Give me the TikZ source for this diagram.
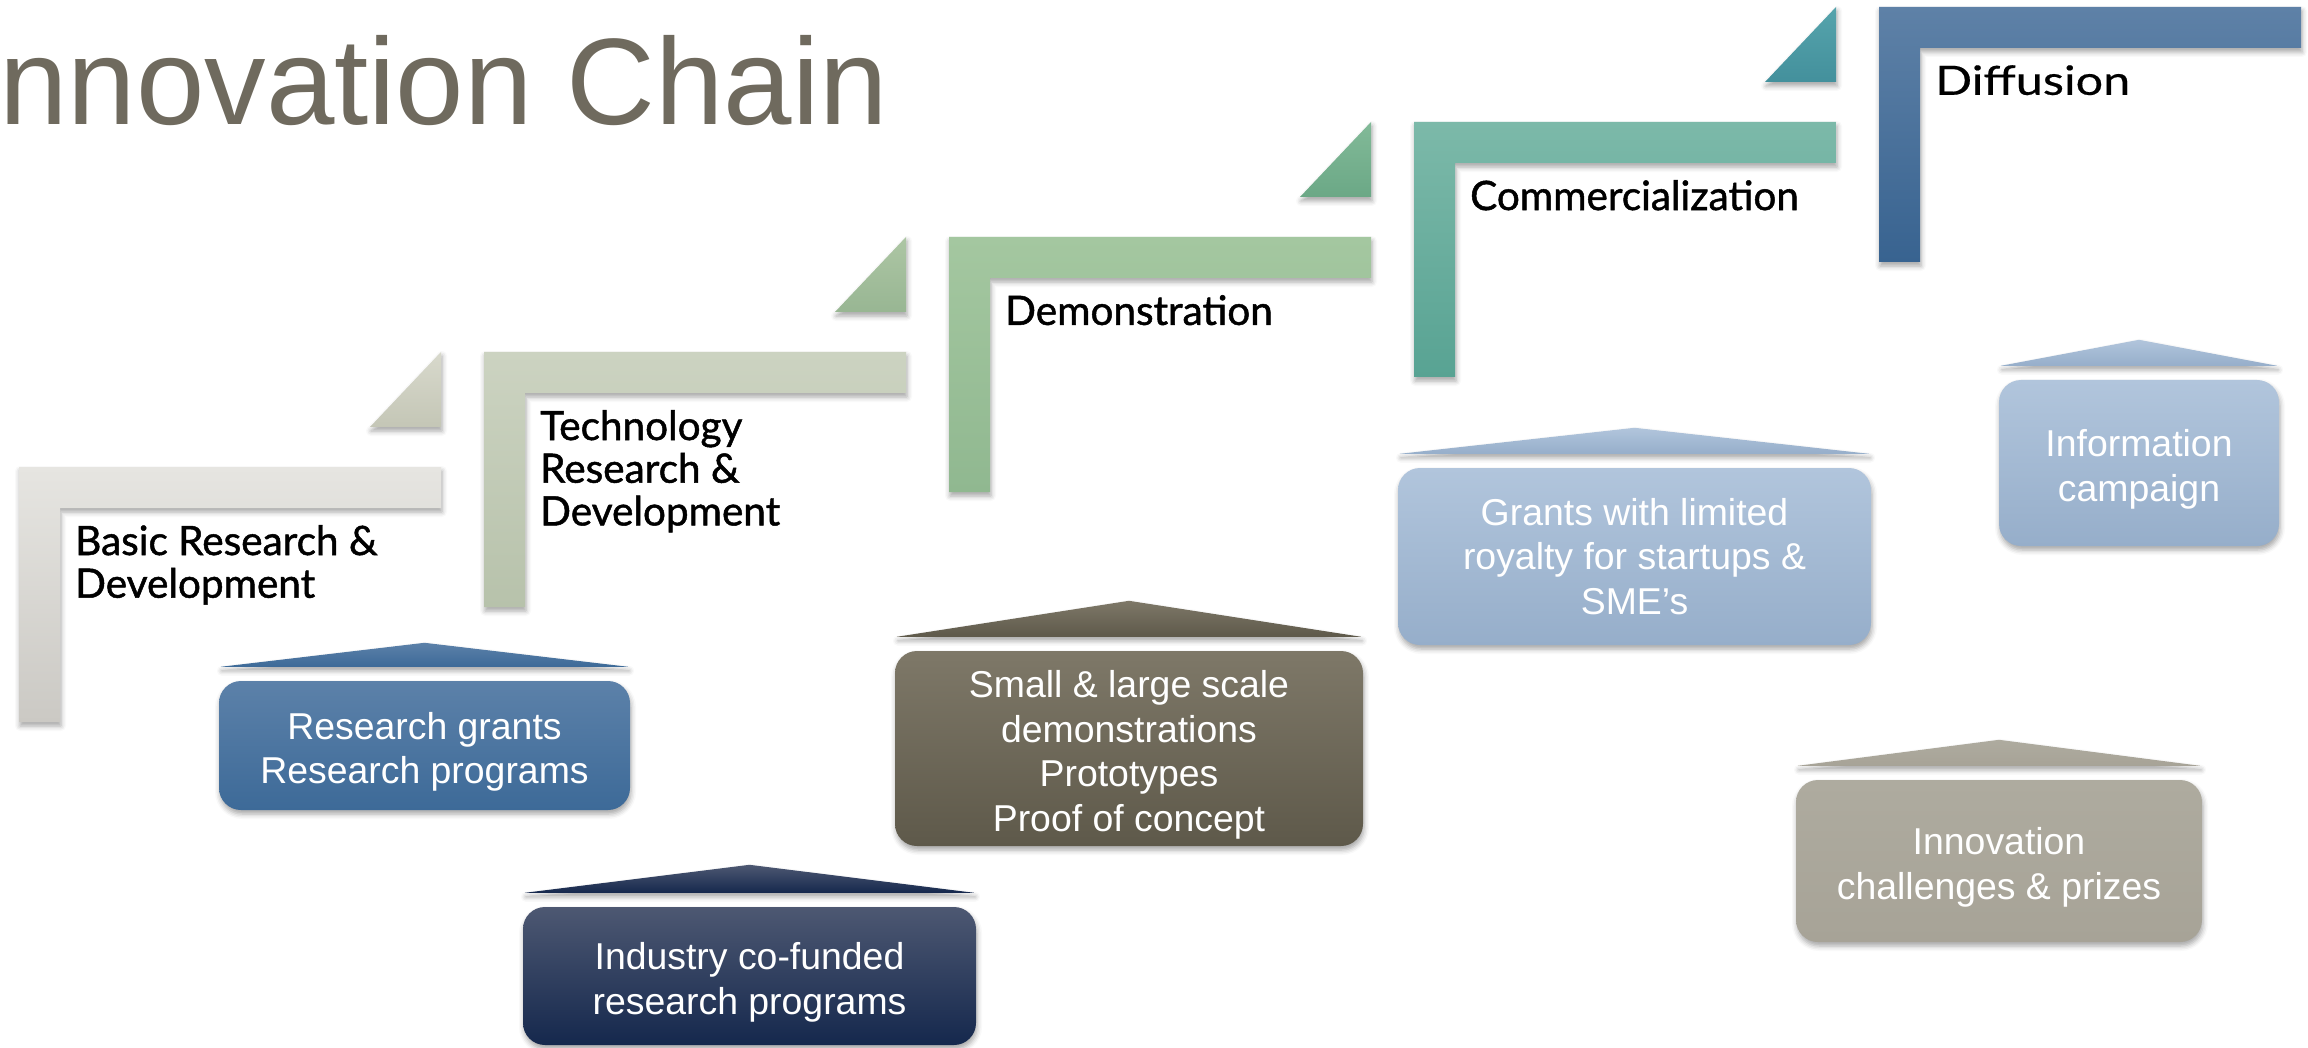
\documentclass[tikz,border=0pt]{standalone}
\usepackage{fontspec}
\setmainfont{Liberation Sans}
\newfontfamily\stepfont[FakeBold=1.2]{Lato}
\newfontfamily\widestepfont[FakeStretch=1.2,FakeBold=0.4]{Lato}
\usetikzlibrary{positioning,calc,shadows.blur}
\newcommand\liftline{\rule{0pt}{40pt}}

\definecolor{titlegray}{HTML}{6F6A5E}
% step bars (top/bottom shades)
\definecolor{basicTop}{HTML}{E6E5E1}\definecolor{basicBot}{HTML}{CBC9C4}
\definecolor{techTop}{HTML}{CCD3C1}\definecolor{techBot}{HTML}{B7C2AB}
\definecolor{demoTop}{HTML}{A4C7A0}\definecolor{demoBot}{HTML}{90B890}
\definecolor{commTop}{HTML}{7CB9A9}\definecolor{commBot}{HTML}{58A393}
\definecolor{diffTop}{HTML}{5E81A7}\definecolor{diffBot}{HTML}{386390}
% small corner wedges
\definecolor{wedgeATop}{HTML}{D8D9CC}\definecolor{wedgeABot}{HTML}{C4C6B6}
\definecolor{wedgeBTop}{HTML}{ADC6A4}\definecolor{wedgeBBot}{HTML}{98B693}
\definecolor{wedgeCTop}{HTML}{82BA98}\definecolor{wedgeCBot}{HTML}{6BA886}
\definecolor{wedgeDTop}{HTML}{56A4AC}\definecolor{wedgeDBot}{HTML}{43909C}
% funding boxes
\definecolor{grantTop}{HTML}{5C81A9}\definecolor{grantBot}{HTML}{3D6A98}
\definecolor{indTop}{HTML}{4D5872}\definecolor{indBot}{HTML}{15284D}
\definecolor{demTop}{HTML}{7E7868}\definecolor{demBot}{HTML}{5E594A}
\definecolor{paleTop}{HTML}{B1C5DC}\definecolor{paleBot}{HTML}{96AECA}
\definecolor{prizeTop}{HTML}{AEAB9F}\definecolor{prizeBot}{HTML}{A7A397}

\begin{document}
\begin{tikzpicture}[x=1pt,y=-1pt,
		soft/.style={blur shadow={shadow xshift=1pt,shadow yshift=-4pt,
			shadow blur radius=5pt,shadow opacity=35}},
		steplabel/.style={anchor=north west,inner sep=0pt,align=left,
			font=\stepfont\fontsize{40.5}{42.7}\selectfont},
		fundbox/.style={soft,rounded corners=22pt,align=center,text=white,
			inner sep=0pt,font=\fontsize{37.4}{44.5}\selectfont}]
		\useasboundingbox (0,0) rectangle (2308,1048);

		% Title (cut by the left edge)
		\node[anchor=base west,inner sep=0pt,text=titlegray,
			font=\fontsize{123}{130}\selectfont] (title) at (-35,125) {Innovation Chain};

		% Steps of the chain
		\foreach \k/\ctop/\cbot in {0/basicTop/basicBot,1/techTop/techBot,
				2/demoTop/demoBot,3/commTop/commBot,4/diffTop/diffBot} {
			\pgfmathsetmacro\sx{19+465*\k}
			\pgfmathsetmacro\sy{467-115*\k}
			\shade[top color=\ctop,bottom color=\cbot,soft]
				(\sx,\sy) -- ++(422,0) -- ++(0,41) -- ++(-381,0)
				-- ++(0,214) -- ++(-41,0) -- cycle;
		}

		% Wedges at the ends of the bars
		\foreach \k/\ctop/\cbot in {0/wedgeATop/wedgeABot,1/wedgeBTop/wedgeBBot,
				2/wedgeCTop/wedgeCBot,3/wedgeDTop/wedgeDBot} {
			\pgfmathsetmacro\sx{19+465*\k+422}
			\pgfmathsetmacro\sy{467-115*\k}
			\shade[top color=\ctop,bottom color=\cbot,soft]
				(\sx,\sy-115) -- (\sx,\sy-40) -- (\sx-71,\sy-40) -- cycle;
		}

		% Step labels
		\node[steplabel] (basic) at (75,525) {Basic Research \&\\Development};
		\node[steplabel] (tech)  at (540,410) {Technology\\Research \&\\Development};
		\node[steplabel] (demo)  at (1005,295) {Demonstration};
		\node[steplabel] (comm)  at (1470,180) {Commercialization};
		\node[steplabel,font=\widestepfont\fontsize{40.5}{42.7}\selectfont]
			(diff) at (1935,65) {Diffusion};

		% Funding instruments
		\node[fundbox,top color=grantTop,bottom color=grantBot,
			minimum width=411pt,minimum height=129pt] (grants) at (424.5,745.5)
			{\liftline Research grants\\Research programs};
		\node[fundbox,top color=indTop,bottom color=indBot,
			minimum width=453pt,minimum height=138pt] (industry) at (749.5,976)
			{\liftline Industry co-funded\\research programs};
		\node[fundbox,top color=demTop,bottom color=demBot,
			minimum width=468pt,minimum height=195pt] (demos) at (1129,748.5)
			{\liftline Small \& large scale\\demonstrations\\Prototypes\\Proof of concept};
		\node[fundbox,top color=paleTop,bottom color=paleBot,
			minimum width=473pt,minimum height=177pt] (royalty) at (1634.5,556.5)
			{Grants with limited\\royalty for startups \&\\SME’s};
		\node[fundbox,top color=paleTop,bottom color=paleBot,
			minimum width=280pt,minimum height=166pt] (campaign) at (2139,463)
			{\liftline Information\\campaign};
		\node[fundbox,top color=prizeTop,bottom color=prizeBot,
			minimum width=406pt,minimum height=162pt] (prizes) at (1999,861)
			{\liftline Innovation\\challenges \& prizes};

		% Roofs above the boxes
		\foreach \b/\h/\ctop/\cbot in {grants/38/grantTop/grantBot,
				industry/42/indTop/indBot,demos/50/demTop/demBot,
				royalty/40/paleTop/paleBot,campaign/40/paleTop/paleBot,
				prizes/40/prizeTop/prizeBot} {
			\shade[top color=\ctop,bottom color=\cbot,soft]
				($(\b.north west)+(2,-14)$) -- ($(\b.north)+(0,-\h)$)
				-- ($(\b.north east)+(-2,-14)$) -- cycle;
		}
	\end{tikzpicture}
\end{document}
